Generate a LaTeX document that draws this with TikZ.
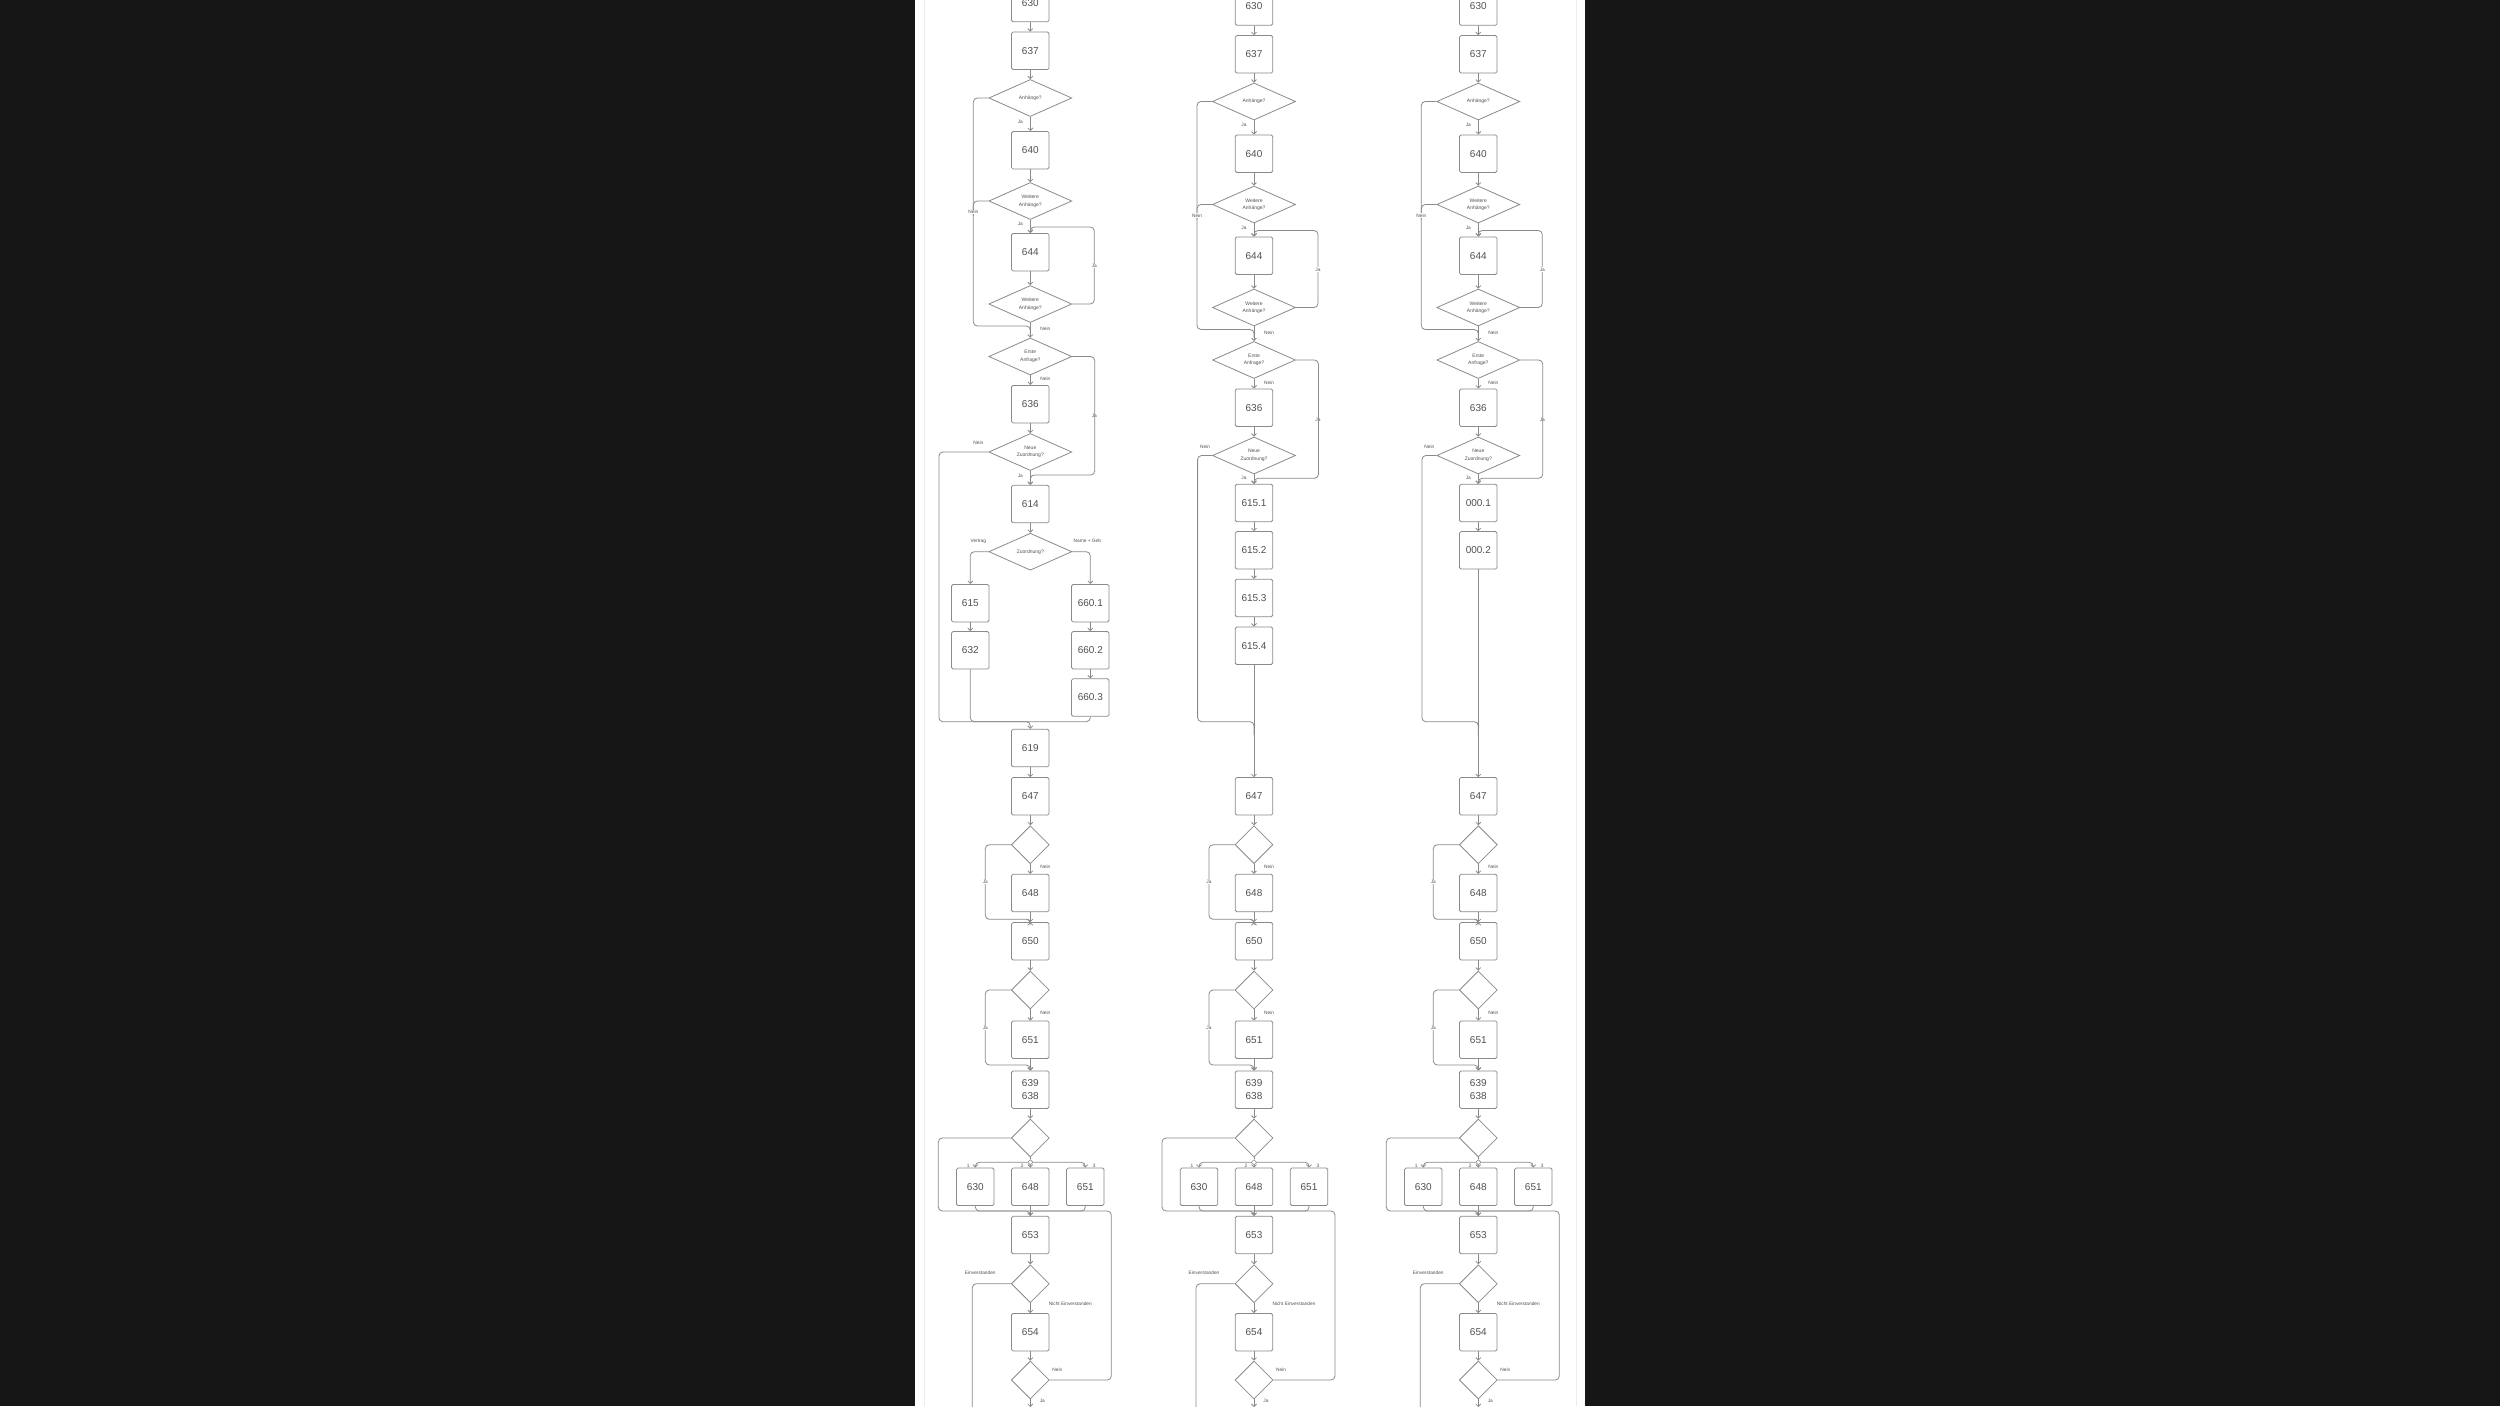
\documentclass[tikz,border=0pt]{standalone}
\usepackage{fontspec}
\setmainfont{Liberation Sans}
\usetikzlibrary{shapes.geometric,arrows.meta}
\definecolor{bgdark}{HTML}{161616}
\definecolor{lncol}{HTML}{8A8A8A}
\definecolor{txcol}{HTML}{505050}
\definecolor{pageline}{HTML}{ECECEC}

\newcommand{\TopPart}[2]{%
\begin{scope}[shift={(0,#2)}]
\node[box] (#1n630) at (0,3) {630};
\node[box] (#1n637) at (0,50.8) {637};
\node[dia] (#1dA) at (0,98) {Anhänge?};
\node[box] (#1n640) at (0,150.2) {640};
\node[dia] (#1dWa) at (0,201) {Weitere\\Anhänge?};
\node[box] (#1n644) at (0,252.2) {644};
\node[dia] (#1dWb) at (0,304) {Weitere\\Anhänge?};
\node[dia] (#1dE) at (0,356.5) {Erste\\Anfrage?};
\node[box] (#1n636) at (0,404.2) {636};
\node[dia] (#1dN) at (0,452) {Neue\\Zuordnung?};
\draw[arr] (#1n630) -- (#1n637);
\draw[arr] (#1n637) -- (#1dA);
\draw[arr] (#1dA) -- (#1n640);
\draw[arr] (#1n640) -- (#1dWa);
\draw[arr] (#1dWa) -- (#1n644);
\draw[arr] (#1n644) -- (#1dWb);
\draw[arr] (#1dWb) -- (#1dE);
\draw[arr] (#1dE) -- (#1n636);
\draw[arr] (#1n636) -- (#1dN);
\draw[ln] (#1dA.west) -- (-57,98) -- (-57,326) -- (0,326) -- (0,334);
\draw[ln] (#1dWa.west) -- (-57,201) -- (-57,216);
\draw[arr] (#1dWb.east) -- (64,304) -- (64,227) -- (0,227) -- (#1n644.north);
\node[lblw] at (-57,212) {Nein};
\node[lbl] at (-10,121.7) {Ja};
\node[lbl] at (-10,224) {Ja};
\node[lblw] at (64,266) {Ja};
\node[lbl] at (15,329) {Nein};
\node[lbl] at (15,379) {Nein};
\node[lblw] at (64,416) {Ja};
\end{scope}}

\newcommand{\BottomPart}[1]{%
\node[box] (#1n647) at (0,796.3) {647};
\node[sq] (#1dP) at (0,844.7) {};
\node[box] (#1n648) at (0,893) {648};
\node[box] (#1n650) at (0,941.3) {650};
\node[sq] (#1dQ) at (0,990) {};
\node[box] (#1n651) at (0,1039.7) {651};
\node[box] (#1n639) at (0,1089.7) {639\\638};
\node[sq] (#1dR) at (0,1138) {};
\node[junc] (#1j) at (0,1162.3) {};
\node[box] (#1m630) at (-55,1186.8) {630};
\node[box] (#1m648) at (0,1186.8) {648};
\node[box] (#1m651) at (55,1186.8) {651};
\node[box] (#1n653) at (0,1235) {653};
\node[sq] (#1dS) at (0,1283.7) {};
\node[box] (#1n654) at (0,1332.2) {654};
\node[sq] (#1dT) at (0,1380) {};
\coordinate (#1endA) at (0,1407);
\coordinate (#1endB) at (-58,1420);
\draw[arr] (#1n647) -- (#1dP);
\draw[arr] (#1dP) -- (#1n648);
\draw[arr] (#1n648) -- (#1n650);
\draw[arr] (#1dP.west) -| (-45,919.3) -- (0,919.3) -- (#1n650.north);
\draw[arr] (#1n650) -- (#1dQ);
\draw[arr] (#1dQ) -- (#1n651);
\draw[arr] (#1n651) -- (#1n639);
\draw[arr] (#1dQ.west) -| (-45,1065) -- (0,1065) -- (#1n639.north);
\draw[arr] (#1n639) -- (#1dR);
\draw[ln] (#1dR) -- (#1j);
\draw[arr] (#1j.west) -| (#1m630.north);
\draw[arr] (#1j.east) -| (#1m651.north);
\draw[arr] (#1j) -- (#1m648);
\draw[arr] (#1dR.west) -| (-92,1211) -- (0,1211) -- (#1n653.north);
\draw[ln] (#1m630.south) |- (0,1211);
\draw[ln] (#1m651.south) |- (0,1211);
\draw[arr] (#1m648) -- (#1n653);
\draw[arr] (#1n653) -- (#1dS);
\draw[arr] (#1dS) -- (#1n654);
\draw[arr] (#1n654) -- (#1dT);
\draw[ln] (#1dT.east) -| (81,1211) -- (0,1211);
\draw[ln] (#1dS.west) -| (#1endB);
\draw[arr] (#1dT) -- (#1endA);
\node[lbl] at (15,867) {Nein};
\node[lblw] at (-45,882) {Ja};
\node[lbl] at (15,1013) {Nein};
\node[lblw] at (-45,1028) {Ja};
\node[lbl] at (-62,1166) {1};
\node[lbl] at (-8,1166) {2};
\node[lbl] at (64,1166) {3};
\node[lbl] at (-50,1273) {Einverstanden};
\node[lbl] at (40,1304) {Nicht Einverstanden};
\node[lbl] at (27,1370) {Nein};
\node[lbl] at (12,1401) {Ja};
}

\begin{document}
\begin{tikzpicture}[x=1pt,y=-1pt,
  box/.style={draw=lncol, line width=0.8pt, rounded corners=1.5pt, minimum width=37.5pt, minimum height=37.5pt, inner sep=0pt, font=\fontsize{10}{12.7}\selectfont, text=txcol, align=center},
  dia/.style={diamond, draw=lncol, line width=0.8pt, shape aspect=2.2, minimum width=83pt, minimum height=37pt, inner sep=0pt, font=\fontsize{5}{7.5}\selectfont, text=txcol, align=center},
  sq/.style={diamond, draw=lncol, line width=0.8pt, minimum width=38pt, minimum height=38pt, inner sep=0pt},
  junc/.style={diamond, draw=lncol, line width=0.6pt, minimum width=5.5pt, minimum height=5.5pt, inner sep=0pt},
  ln/.style={draw=lncol, line width=0.8pt, rounded corners=4pt},
  arr/.style={ln, -{Straight Barb[length=2.5pt,width=5pt]}},
  lbl/.style={font=\fontsize{4.8}{6}\selectfont, text=txcol, inner sep=0.5pt},
  lblw/.style={lbl, fill=white}]
\useasboundingbox (0,0) rectangle (2500,1406);
\fill[bgdark] (0,0) rectangle (2500,1406);
\fill[white] (915,0) rectangle (1585,1406);
\draw[pageline, line width=0.8pt] (924,0) -- (924,1406);
\draw[pageline, line width=0.8pt] (1576,0) -- (1576,1406);

% ---------- column 1 ----------
\begin{scope}[shift={(1030.3,0)}]
\TopPart{a}{0}
\BottomPart{a}
\node[box] (an614) at (0,504) {614};
\node[dia] (adZ) at (0,551.7) {Zuordnung?};
\node[box] (an615) at (-60,603.2) {615};
\node[box] (an632) at (-60,650.3) {632};
\node[box] (an6601) at (60,603.2) {660.1};
\node[box] (an6602) at (60,650.3) {660.2};
\node[box] (an6603) at (60,697.5) {660.3};
\node[box] (an619) at (0,748) {619};
\draw[arr] (adE.east) -- ++(22.5,0) |- (0,475) -- (an614.north);
\draw[arr] (adN) -- (an614);
\draw[arr] (an614) -- (adZ);
\draw[arr] (adZ.west) -| (an615.north);
\draw[arr] (adZ.east) -| (an6601.north);
\draw[arr] (an615) -- (an632);
\draw[arr] (an6601) -- (an6602);
\draw[arr] (an6602) -- (an6603);
\draw[ln] (an632.south) |- (0,721.7);
\draw[ln] (an6603.south) |- (0,721.7);
\draw[arr] (adN.west) -- ++(-49.5,0) |- (0,721.7) -- (an619.north);
\draw[arr] (an619) -- (an647);
\node[lbl] at (-10,476) {Ja};
\node[lbl] at (-52,442.7) {Nein};
\node[lbl] at (-52,541) {Vertrag};
\node[lbl] at (57,541) {Name + Geb};
\end{scope}

% ---------- column 2 ----------
\begin{scope}[shift={(1254,0)}]
\TopPart{b}{3.5}
\BottomPart{b}
\node[box] (bn6151) at (0,503) {615.1};
\node[box] (bn6152) at (0,550.3) {615.2};
\node[box] (bn6153) at (0,598) {615.3};
\node[box] (bn6154) at (0,645.7) {615.4};
\draw[arr] (bdE.east) -- ++(22.5,0) |- (0,478.3) -- (bn6151.north);
\draw[arr] (bdN) -- (bn6151);
\draw[arr] (bn6151) -- (bn6152);
\draw[arr] (bn6152) -- (bn6153);
\draw[arr] (bn6153) -- (bn6154);
\draw[arr] (bn6154) -- (bn647);
\draw[ln] (bdN.west) -- ++(-14.5,0) |- (0,721.7) -- (0,735);
\node[lbl] at (-10,478) {Ja};
\node[lbl] at (-49,446.7) {Nein};
\end{scope}

% ---------- column 3 ----------
\begin{scope}[shift={(1478.3,0)}]
\TopPart{c}{3.5}
\BottomPart{c}
\node[box] (cn0001) at (0,503) {000.1};
\node[box] (cn0002) at (0,550.3) {000.2};
\draw[arr] (cdE.east) -- ++(22.5,0) |- (0,478.3) -- (cn0001.north);
\draw[arr] (cdN) -- (cn0001);
\draw[arr] (cn0001) -- (cn0002);
\draw[arr] (cn0002) -- (cn647);
\draw[ln] (cdN.west) -- ++(-14.5,0) |- (0,721.7) -- (0,735);
\node[lbl] at (-10,478) {Ja};
\node[lbl] at (-49,446.7) {Nein};
\end{scope}
\end{tikzpicture}
\end{document}
